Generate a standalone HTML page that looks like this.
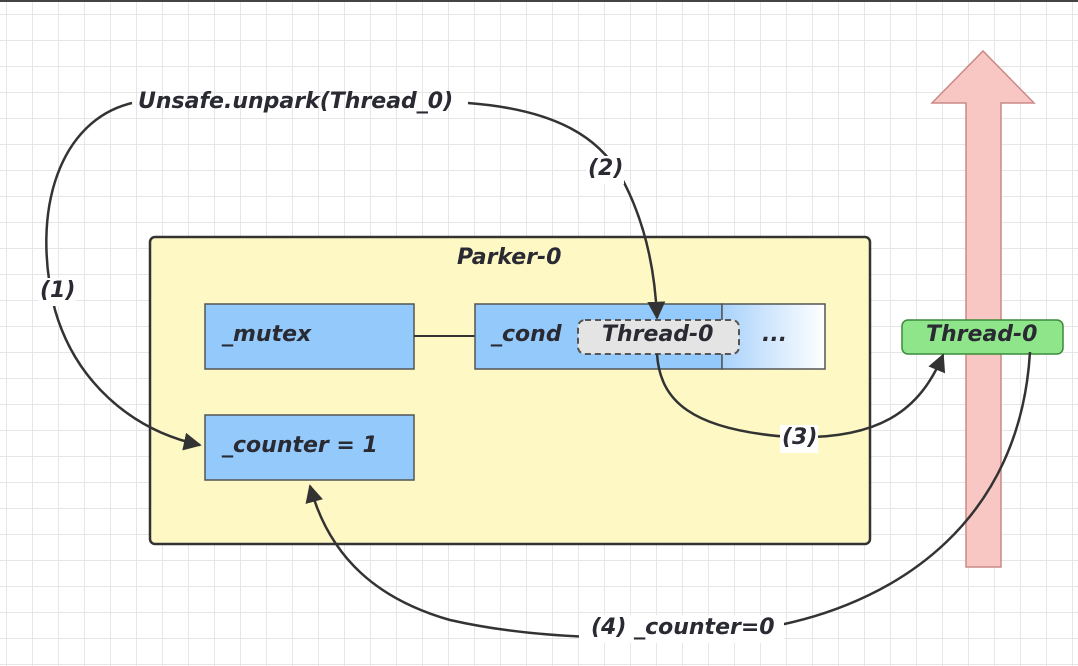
<!DOCTYPE html>
<html><head><meta charset="utf-8"><style>
html,body{margin:0;padding:0;}
body{width:1078px;height:666px;overflow:hidden;background:#fff;position:relative;
background-image:linear-gradient(#e6e6e6 1px,transparent 1px),linear-gradient(90deg,#e6e6e6 1px,transparent 1px);
background-size:26px 26px;background-position:6px 14px;font-family:"DejaVu Sans",sans-serif;}
.t{position:absolute;font-weight:bold;font-style:italic;color:#2a2a33;font-size:22px;white-space:nowrap;}
</style></head><body>
<div style="position:absolute;left:0;top:0;width:1078px;height:2px;background:#444"></div>
<svg width="1078" height="666" style="position:absolute;left:0;top:0">
<defs>
<marker id="b" viewBox="0 0 10 10" markerWidth="18" markerHeight="18" refX="9" refY="5" orient="auto" markerUnits="userSpaceOnUse"><path d="M0,0 L10,5 L0,10 z" fill="#333"/></marker>
<linearGradient id="g" x1="0" x2="1"><stop offset="0" stop-color="#a9d2fb"/><stop offset="1" stop-color="#fff"/></linearGradient></defs>
<path d="M966,567 L966,103 L932,103 L983,51 L1034,103 L1001,103 L1001,567 Z" fill="#f9c7c3" stroke="#c98a86" stroke-width="1.5"/>
<rect x="150" y="237" width="720" height="307" rx="5" fill="#fdf8c4" stroke="#333" stroke-width="2.5"/>
<rect x="205" y="304" width="209" height="65" fill="#94c9fb" stroke="#555" stroke-width="1.5"/>
<rect x="205" y="415" width="209" height="65" fill="#94c9fb" stroke="#555" stroke-width="1.5"/>
<line x1="414" y1="336" x2="475" y2="336" stroke="#333" stroke-width="2"/>
<rect x="475" y="304" width="247" height="65" fill="#94c9fb" stroke="#555" stroke-width="1.5"/>
<rect x="722" y="304" width="103" height="65" fill="url(#g)" stroke="#555" stroke-width="1.5"/>
<rect x="578" y="320" width="161" height="34" rx="7" fill="#e4e4e4" stroke="#555" stroke-width="2" stroke-dasharray="6,4"/>
<rect x="902" y="320" width="161" height="34" rx="6" fill="#8fe68a" stroke="#3a8a3a" stroke-width="1.5"/>
<g fill="none" stroke="#333" stroke-width="2.5">
<path d="M132,103 C60,120 30,210 55,310 C75,380 130,430 200,445" marker-end="url(#b)"/>
<path d="M468,103 C560,110 600,140 620,175 C645,220 655,270 657,318" marker-end="url(#b)"/>
<path d="M657,354 C660,400 690,430 790,437 C880,440 920,410 943,355" marker-end="url(#b)"/>
<path d="M1030,352 C1020,520 900,600 780,625 C700,640 560,645 450,620 C380,600 330,560 310,486" marker-end="url(#b)"/>
</g>
<rect x="579" y="615" width="205" height="28" fill="#fff"/>
<rect x="780" y="425" width="38" height="28" fill="#fff"/>
<rect x="38" y="278" width="38" height="28" fill="#fff"/>
<rect x="586" y="156" width="38" height="28" fill="#fff"/>
</svg>
<div class="t" style="left:138px;top:89px">Unsafe.unpark(Thread_0)</div>
<div class="t" style="left:588px;top:156px">(2)</div>
<div class="t" style="left:40px;top:278px">(1)</div>
<div class="t" style="left:457px;top:245px">Parker-0</div>
<div class="t" style="left:222px;top:322px">_mutex</div>
<div class="t" style="left:222px;top:433px">_counter = 1</div>
<div class="t" style="left:491px;top:322px">_cond</div>
<div class="t" style="left:602px;top:322px">Thread-0</div>
<div class="t" style="left:762px;top:322px">...</div>
<div class="t" style="left:926px;top:322px">Thread-0</div>
<div class="t" style="left:782px;top:425px">(3)</div>
<div class="t" style="left:591px;top:615px">(4) _counter=0</div>
</body></html>
